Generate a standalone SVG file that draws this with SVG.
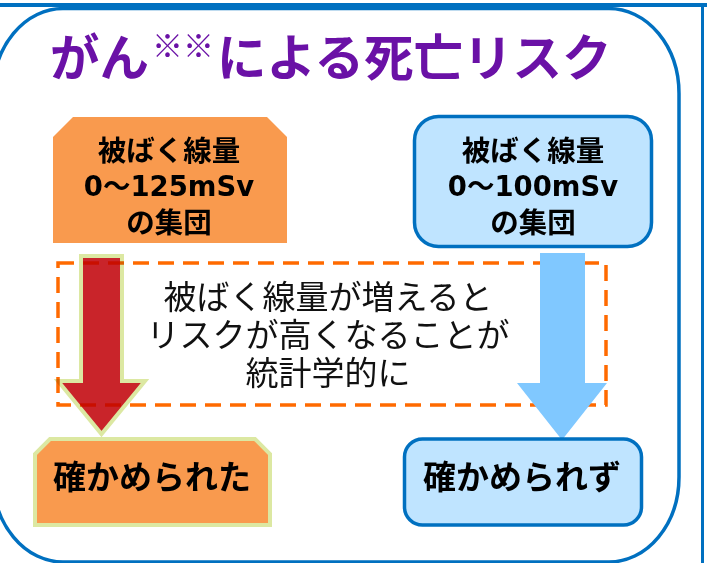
<svg xmlns="http://www.w3.org/2000/svg" width="707" height="563" viewBox="0 0 707 563">
<style>
.jp{font-family:"Noto Sans CJK JP","Noto Sans",sans-serif;}
.lat{font-family:"DejaVu Sans","Noto Sans CJK JP",sans-serif;}
.b{font-weight:700;fill:#000;}
.box-t{font-size:28.5px;text-anchor:middle;}
.box-l{font-size:27.5px;text-anchor:middle;}
.res{font-size:33px;text-anchor:middle;}
.mid{font-size:33px;font-weight:400;fill:#111;text-anchor:middle;}
.orange{fill:#F99A4E;}
.lblue{fill:#BFE4FF;stroke:#0070C0;stroke-width:3.5;}
</style>
<rect x="0" y="0" width="707" height="563" fill="#fff"/>
<g id="frame">
<rect x="0" y="3" width="707" height="4" fill="#0070C0"/>
<rect x="701" y="3" width="3" height="560" fill="#0070C0"/>
<rect x="-7" y="8.5" width="686" height="553.5" rx="70" ry="85" fill="#fff" stroke="#0070C0" stroke-width="3.5"/>
</g>
<g id="title">
<text class="jp" x="50" y="76" font-size="49.5" font-weight="700" fill="#6A11A6">がん<tspan font-size="31" dx="3" dy="-19">※※</tspan><tspan dx="3" dy="19">による死亡リスク</tspan></text>
</g>
<g id="node-125">
<polygon class="orange" points="73,117 267,117 287,137 287,243 53,243 53,137"/>
<text class="jp b box-t" x="169" y="161">被ばく線量</text>
<text class="lat b box-l" x="169" y="196">0～125mSv</text>
<text class="jp b box-t" x="169" y="233">の集団</text>
</g>
<g id="node-100">
<rect class="lblue" x="414.5" y="116.5" width="237" height="130" rx="24" ry="24"/>
<text class="jp b box-t" x="533" y="161">被ばく線量</text>
<text class="lat b box-l" x="533" y="196">0～100mSv</text>
<text class="jp b box-t" x="533" y="233">の集団</text>
</g>
<g id="connectors">
<polygon points="81,256 122,256 122,381 145,381 101.5,434 58,381 81,381" fill="#C9242A" stroke="#DCE8A2" stroke-width="4"/>
</g>
<g id="note">
<rect x="58" y="263" width="548" height="142" fill="none" stroke="#FF6A00" stroke-width="3.5" stroke-dasharray="16 9" style="mix-blend-mode:multiply"/>
<text class="jp mid" x="328" y="309">被ばく線量が増えると<tspan x="328" dy="38">リスクが高くなることが</tspan><tspan x="328" dy="38">統計学的に</tspan></text>
</g>
<g id="connectors-2">
<polygon points="540,253 585,253 585,383 607,383 562,440 517,383 540,383" fill="#80C8FF"/>
</g>
<g id="node-confirmed">
<polygon class="orange" points="50,439 255,439 270,454 270,525 35,525 35,454" stroke="#DCE8A2" stroke-width="4"/>
<text class="jp b res" x="152" y="489">確かめられた</text>
</g>
<g id="node-not-confirmed">
<rect class="lblue" x="404.5" y="439" width="237" height="86" rx="18" ry="18"/>
<text class="jp b res" x="522" y="489">確かめられず</text>
</g>
</svg>
